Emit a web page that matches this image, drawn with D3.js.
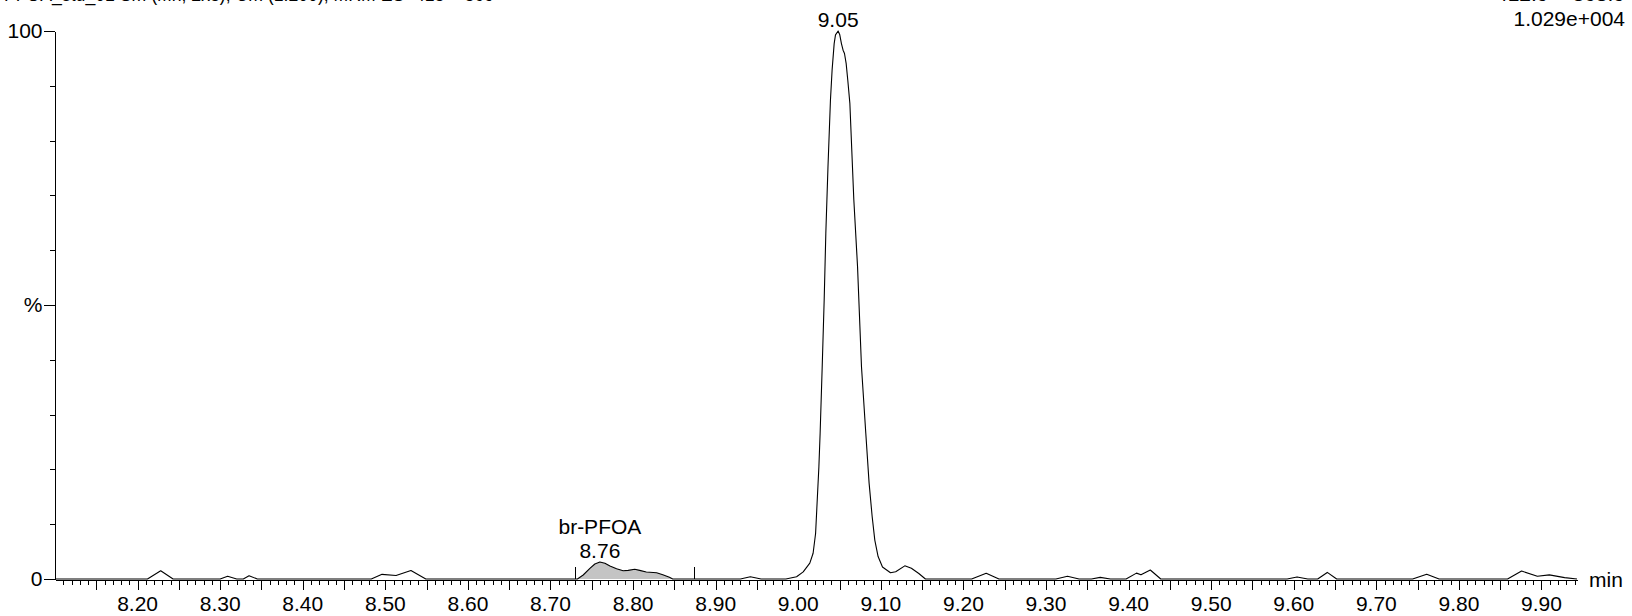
<!DOCTYPE html>
<html><head><meta charset="utf-8">
<script src="https://cdn.jsdelivr.net/npm/d3@7"></script>
<style>
body{margin:0;background:#fff;}
svg text{font-family:"Liberation Sans",Arial,Helvetica,sans-serif;fill:#000;}
</style>
</head><body>
<svg id="chart" width="1632" height="616"></svg>
<script>
// ---- data (retention time in min, relative intensity in %) ----
const times = [8.100,8.212,8.228,8.243,8.300,8.309,8.320,8.328,8.335,8.345,
  8.483,8.496,8.513,8.531,8.549,
  8.7326,8.7396,8.7477,8.7537,8.7598,8.7659,8.772,8.780,8.788,8.794,8.802,8.808,8.816,8.8285,8.836,8.844,8.848,
  8.930,8.942,8.955,8.985,8.998,9.006,9.014,9.018,9.021,9.023,9.025,9.0265,9.029,9.0314,9.0334,9.036,9.039,
  9.041,9.0435,9.0451,9.0483,9.0503,9.0523,9.0543,9.056,9.058,9.060,9.0625,9.0673,9.0718,9.0766,9.0818,
  9.0858,9.0895,9.0927,9.0967,9.102,9.1117,9.118,9.129,9.137,9.146,9.154,
  9.210,9.2276,9.243,9.312,9.326,9.340,9.355,9.3657,9.378,
  9.397,9.4096,9.415,9.4263,9.439,9.592,9.604,9.617,9.629,9.6406,9.652,
  9.744,9.761,9.776,9.8589,9.8759,9.895,9.9095,9.928,9.943];
const intensities = [0,0,1.5,0,0,0.5,0,0,0.6,0,
  0,0.85,0.65,1.55,0,
  0,0.73,1.95,2.74,3.1,2.86,2.37,1.88,1.5,1.58,1.77,1.58,1.28,1.15,0.78,0.3,0,
  0,0.4,0,0,0.4,1.3,2.9,4.7,8.3,14.4,20.5,26.6,38.7,50.9,63.1,75.2,87.4,
  92.9,97.7,99.3,100,99.3,97.7,96.5,95.9,94.1,91.0,86.8,69.2,57.0,38.7,26.6,
  17.5,11.4,7.1,4.1,2.2,1.15,1.33,2.4,1.95,1.0,0,
  0,1.04,0,0,0.5,0,0,0.3,0,
  0,1.07,0.76,1.64,0,0,0.38,0,0,1.2,0,
  0,0.88,0,0,1.45,0.5,0.76,0.25,0];

const xLabelValues = [8.20,8.30,8.40,8.50,8.60,8.70,8.80,8.90,9.00,9.10,9.20,9.30,9.40,9.50,9.60,9.70,9.80,9.90];
const xLabelTexts = ["8.20","8.30","8.40","8.50","8.60","8.70","8.80","8.90","9.00","9.10","9.20","9.30","9.40","9.50","9.60","9.70","9.80","9.90"];
const yTickValues = [0,10,20,30,40,50,60,70,80,90,100];
const yLabelValues = [0,50,100];
const yLabelTexts = ["0","%","100"];

const peakApexTimes = [9.0483, 8.7598];
const peakApexValues = [100, 3.1];
const peakTexts = [["9.05"], ["br-PFOA","8.76"]];
const integrationStart = 8.730, integrationEnd = 8.874;

const headerLeft = "PFOA_std_01 Sm (Mn, 2x3), Cm (1:200), MRM ES- 413 > 369";
const headerRight = ["412.9 > 368.9", "1.029e+004"];
const xUnit = "min";

// ---- layout ----
const svg = d3.select("#chart");
const FS = 21;
const x = d3.scaleLinear().domain([8.10, 9.943]).range([55, 1577]);
const y = d3.scaleLinear().domain([0, 100]).range([579, 31]);

// header (clipped at top like the source)
svg.append("text").attr("x", 4).attr("y", 1).attr("font-size", FS)
  .attr("textLength", 490).attr("lengthAdjust", "spacingAndGlyphs").text(headerLeft);
svg.append("text").attr("x", 1625).attr("y", 1).attr("text-anchor","end").attr("font-size", FS).text(headerRight[0]);
svg.append("text").attr("x", 1625).attr("y", 26).attr("text-anchor","end").attr("font-size", FS).text(headerRight[1]);

// x axis: minor, major ticks, labels
const minorTicks = d3.range(811, 995).map(i => i / 100);
const majorTicks = d3.range(163, 199).map(i => +(i * 0.05).toFixed(2));
const gx = svg.append("g").attr("transform", "translate(0,579.5)");
gx.append("g").call(d3.axisBottom(x).tickValues(minorTicks).tickSize(5).tickSizeOuter(0).tickFormat(""))
  .call(g => g.selectAll("line").attr("shape-rendering","crispEdges"))
  .call(g => g.select(".domain").attr("shape-rendering","crispEdges"));
gx.append("g").call(d3.axisBottom(x).tickValues(majorTicks).tickSize(10).tickSizeOuter(0).tickFormat(""))
  .call(g => g.select(".domain").remove())
  .call(g => g.selectAll("line").attr("shape-rendering","crispEdges"));
gx.append("g").selectAll("text").data(xLabelValues).join("text")
  .attr("x", d => x(d)).attr("y", 31).attr("text-anchor","middle").attr("font-size", FS)
  .text((d,i) => xLabelTexts[i]);
svg.append("text").attr("x", 1589).attr("y", 587).attr("font-size", FS).text(xUnit);

// y axis
const gy = svg.append("g").attr("transform", "translate(54.5,0)");
gy.append("g").call(d3.axisLeft(y).tickValues(yTickValues).tickSize(5).tickSizeOuter(0).tickFormat(""))
  .call(g => g.selectAll("line,path").attr("shape-rendering","crispEdges"));
gy.append("g").call(d3.axisLeft(y).tickValues(yLabelValues).tickSize(11).tickSizeOuter(0).tickFormat(""))
  .call(g => g.select(".domain").remove())
  .call(g => g.selectAll("line").attr("shape-rendering","crispEdges"));
gy.append("g").selectAll("text").data(yLabelValues).join("text")
  .attr("x", -12).attr("y", d => y(d) + 7).attr("text-anchor","end").attr("font-size", FS)
  .text((d,i) => yLabelTexts[i]);

// data
const pts = times.map((t,i) => [t, intensities[i]]);
const fillPts = pts.filter(p => p[0] >= integrationStart && p[0] <= integrationEnd);
svg.append("path").datum(fillPts)
  .attr("d", d3.area().x(d => x(d[0])).y0(y(0)).y1(d => y(d[1])))
  .attr("fill", "#c4c4c4").attr("stroke", "none");
svg.append("path").datum(pts)
  .attr("d", d3.line().x(d => x(d[0])).y(d => y(d[1])))
  .attr("fill", "none").attr("stroke", "#000").attr("stroke-width", 1.1).attr("stroke-linejoin","round");

// integration markers
svg.selectAll(".imark").data([integrationStart, integrationEnd]).join("line")
  .attr("x1", d => Math.round(x(d)) + 0.5).attr("x2", d => Math.round(x(d)) + 0.5)
  .attr("y1", y(0)).attr("y2", y(0) - 12).attr("stroke", "#000").attr("shape-rendering","crispEdges");

// peak labels
peakApexTimes.forEach((t, i) => {
  const lines = peakTexts[i];
  lines.forEach((s, j) => {
    svg.append("text").attr("x", x(t)).attr("y", y(peakApexValues[i]) - 4.5 - (lines.length - 1 - j) * 24)
      .attr("text-anchor","middle").attr("font-size", FS).text(s);
  });
});
</script>
</body></html>
